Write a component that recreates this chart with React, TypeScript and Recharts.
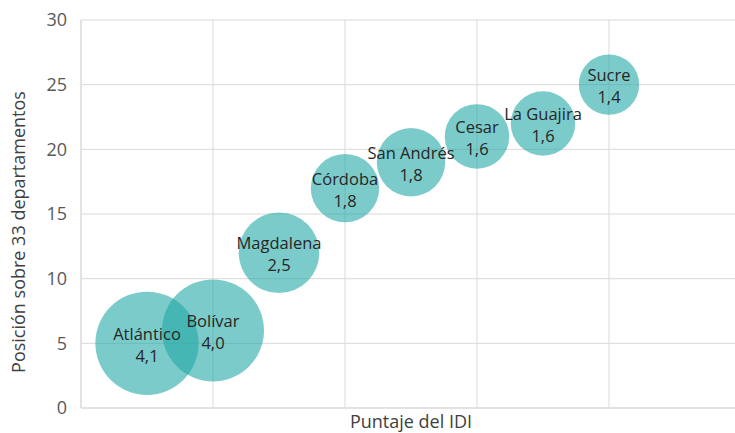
import { ScatterChart, Scatter, XAxis, YAxis, ZAxis, CartesianGrid, LabelList } from "recharts";

const departamentos = ["Atlántico", "Bolívar", "Magdalena", "Córdoba", "San Andrés", "Cesar", "La Guajira", "Sucre"];
const puntajeX = [1, 2, 3, 4, 5, 6, 7, 8];
const posicion = [5, 6, 12, 17, 19, 21, 22, 25];
const idi = [4.1, 4.0, 2.5, 1.8, 1.8, 1.6, 1.6, 1.4];
const yTicks = [0, 5, 10, 15, 20, 25, 30];
const xTicks = [0, 2, 4, 6, 8, 10];

const data = departamentos.map((nombre, i) => ({
  nombre,
  x: puntajeX[i],
  y: posicion[i],
  z: idi[i],
}));

const FONT = "'Open Sans', sans-serif";

const BubbleLabel = (props: any) => {
  const { x, y, width, height, index } = props;
  const cx = x + width / 2;
  const cy = y + height / 2;
  const d = data[index];
  return (
    <g>
      <text x={cx} y={cy - 10} textAnchor="middle" dominantBaseline="central" fontSize={16.5} fill="#262626" fontFamily={FONT}>
        {d.nombre}
      </text>
      <text x={cx} y={cy + 12} textAnchor="middle" dominantBaseline="central" fontSize={16.5} fill="#262626" fontFamily={FONT}>
        {d.z.toFixed(1).replace(".", ",")}
      </text>
    </g>
  );
};

export default function App() {
  return (
    <div style={{ position: "absolute", left: 0, top: 0, width: 735, height: 433, overflow: "hidden", background: "#fff" }}>
      <ScatterChart width={745} height={433} margin={{ top: 20, right: 4, bottom: 0, left: 0 }}>
        <CartesianGrid stroke="#d9d9d9" />
        <XAxis
          type="number"
          dataKey="x"
          domain={[0, 10]}
          ticks={xTicks}
          tick={() => <g />}
          tickLine={false}
          axisLine={{ stroke: "#d9d9d9" }}
          height={25}
          label={{ value: "Puntaje del IDI", position: "insideBottom", offset: 5, fill: "#404040", fontSize: 18, fontFamily: FONT }}
        />
        <YAxis
          type="number"
          dataKey="y"
          domain={[0, 30]}
          ticks={yTicks}
          width={81}
          tickLine={false}
          tickMargin={8}
          axisLine={{ stroke: "#d9d9d9" }}
          tick={{ fill: "#595959", fontSize: 18, fontFamily: FONT }}
          label={{
            content: () => (
              <text x={18} y={232} transform="rotate(-90 18 232)" textAnchor="middle" dominantBaseline="central" fontSize={18} fill="#404040" fontFamily={FONT}>
                Posición sobre 33 departamentos
              </text>
            ),
          }}
        />
        <ZAxis type="number" dataKey="z" domain={[0, 5]} range={[0, 10214]} />
        <Scatter data={data} fill="#23A9A6" fillOpacity={0.6} isAnimationActive={false}>
          <LabelList dataKey="nombre" content={BubbleLabel} />
        </Scatter>
      </ScatterChart>
    </div>
  );
}
